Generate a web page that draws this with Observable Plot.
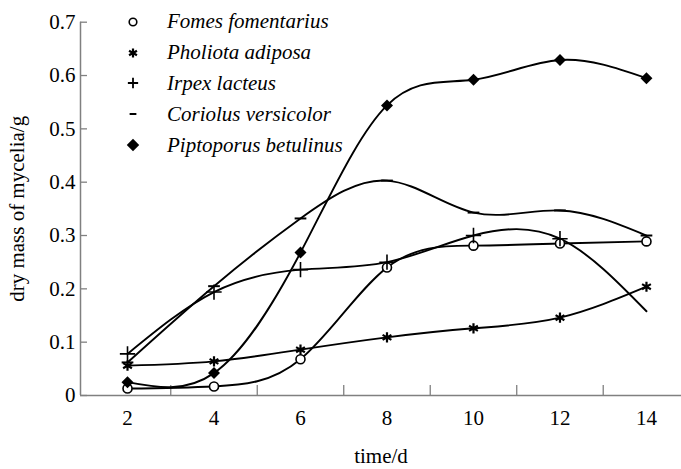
<!DOCTYPE html>
<html><head><meta charset="utf-8">
<script src="https://cdn.jsdelivr.net/npm/d3@7"></script>
<script src="https://cdn.jsdelivr.net/npm/@observablehq/plot@0.6"></script>
<style>
body{margin:0;background:#fff;}
#wrap{position:relative;width:681px;height:469px;}
#legend{position:absolute;left:123px;top:6.5px;font-family:"Liberation Serif",serif;font-style:italic;font-size:21px;color:#000;}
.row{display:flex;align-items:center;height:30.8px;white-space:nowrap;}
.row svg{width:20px;height:20px;margin-right:24px;overflow:visible;flex:none;}
</style></head><body><div id="wrap"><div id="legend"></div></div>
<script>
// ---- data ----
const days = [2, 4, 6, 8, 10, 12, 14];
const speciesNames = ["Fomes fomentarius", "Pholiota adiposa", "Irpex lacteus", "Coriolus versicolor", "Piptoporus betulinus"];
const fomes      = [0.013, 0.017, 0.068, 0.240, 0.281, 0.285, 0.289];
const pholiota   = [0.056, 0.064, 0.086, 0.109, 0.126, 0.146, 0.204];
const irpex      = [0.078, 0.194, 0.236, 0.250, 0.300, 0.294, 0.158];
const coriolus   = [0.062, 0.205, 0.332, 0.403, 0.343, 0.347, 0.300];
const piptoporus = [0.025, 0.042, 0.268, 0.544, 0.592, 0.629, 0.595];
const irpexMarked = [true, true, true, true, true, true, false];
const xTickLabels = [2, 4, 6, 8, 10, 12, 14];
const xMinorTicks = [3, 5, 7, 9, 11, 13];
const yTicks = [0, 0.1, 0.2, 0.3, 0.4, 0.5, 0.6, 0.7];
const xLabel = "time/d";
const yLabel = "dry mass of mycelia/g";

// ---- build table ----
const seriesValues = [fomes, pholiota, irpex, coriolus, piptoporus];
const rows = [];
speciesNames.forEach((s, si) => days.forEach((d, di) => rows.push({
  species: s, day: d, value: seriesValues[si][di],
  marked: si === 2 ? irpexMarked[di] : true
})));

const dash = {draw(ctx, size) { const r = Math.sqrt(size / Math.PI) * 1.3; ctx.moveTo(-r, 0); ctx.lineTo(r, 0); }};
const styles = {
  "Fomes fomentarius":    {symbol: "circle",   r: 4.5, fill: "white", stroke: "black", strokeWidth: 1.6, lr: 3.8, lw: 1.6},
  "Pholiota adiposa":     {symbol: "asterisk", r: 4.8, fill: "none",  stroke: "black", strokeWidth: 2.2, lr: 4.3, lw: 2.2},
  "Irpex lacteus":        {symbol: "plus",     r: 5.0, fill: "none",  stroke: "black", strokeWidth: 1.6, lr: 3.4, lw: 1.8},
  "Coriolus versicolor":  {symbol: dash,       r: 4.5, fill: "none",  stroke: "black", strokeWidth: 2,   lr: 2.6, lw: 2},
  "Piptoporus betulinus": {symbol: "diamond2", r: 5.4, fill: "black", stroke: "none",  strokeWidth: 0,   lr: 5.6, lw: 0}
};

const W = 681, H = 469, mL = 80, mR = 0, mT = 21.7, mB = 74;
const xDomain = [0.913, 14.81], yDomain = [0, 0.7];
const axisColor = "#808080";

const dotMarks = speciesNames.map(s => {
  const st = styles[s];
  return Plot.dot(rows.filter(d => d.species === s && d.marked), {
    x: "day", y: "value", symbol: st.symbol, r: st.r, fill: st.fill,
    stroke: st.stroke, strokeWidth: st.strokeWidth
  });
});

const chart = Plot.plot({
  width: W, height: H, marginLeft: mL, marginRight: mR, marginTop: mT, marginBottom: mB,
  x: {domain: xDomain}, y: {domain: yDomain},
  style: {fontFamily: "'Liberation Serif', serif", fontSize: "21px", background: "white", color: "black"},
  marks: [
    Plot.axisX({ticks: xTickLabels, tickSize: 0, tickPadding: 15, fontSize: 21, label: null}),
    Plot.axisY({ticks: yTicks, tickSize: 0, tickPadding: 5, fontSize: 21, label: null,
      tickFormat: d => d === 0 ? "0" : d.toFixed(1)}),
    Plot.ruleY([yDomain[0]], {stroke: axisColor, strokeWidth: 1.5}),
    Plot.ruleX([xDomain[0]], {y1: yDomain[0], y2: yDomain[1], stroke: axisColor, strokeWidth: 1.5}),
    Plot.tickX(xMinorTicks, {x: d => d, stroke: axisColor, strokeWidth: 1.3, insetTop: (H - mT - mB) - 10}),
    Plot.tickY(yTicks, {y: d => d, stroke: axisColor, strokeWidth: 1.3, insetRight: (W - mL - mR) - 7}),
    Plot.line(rows, {x: "day", y: "value", z: "species", curve: "natural", stroke: "black", strokeWidth: 1.9}),
    ...dotMarks,
    Plot.text([yLabel], {text: d => d, frameAnchor: "left", rotate: -90, dx: -63, textAnchor: "middle", lineAnchor: "middle", fontSize: 21}),
    Plot.text([xLabel], {text: d => d, frameAnchor: "bottom", dy: 67, textAnchor: "middle", lineAnchor: "bottom", fontSize: 21})
  ]
});
document.getElementById("wrap").prepend(chart);

// ---- legend ----
const legend = d3.select("#legend");
speciesNames.forEach(s => {
  const st = styles[s];
  const row = legend.append("div").attr("class", "row");
  const svg = row.append("svg").attr("viewBox", "-10 -10 20 20");
  const type = typeof st.symbol === "string"
    ? {circle: d3.symbolCircle, asterisk: d3.symbolAsterisk, plus: d3.symbolPlus, diamond2: d3.symbolDiamond2}[st.symbol]
    : st.symbol;
  svg.append("path").attr("d", d3.symbol(type, st.lr * st.lr * Math.PI)())
    .attr("fill", st.fill).attr("stroke", st.stroke).attr("stroke-width", st.lw);
  row.append("span").text(s);
});
</script></body></html>
